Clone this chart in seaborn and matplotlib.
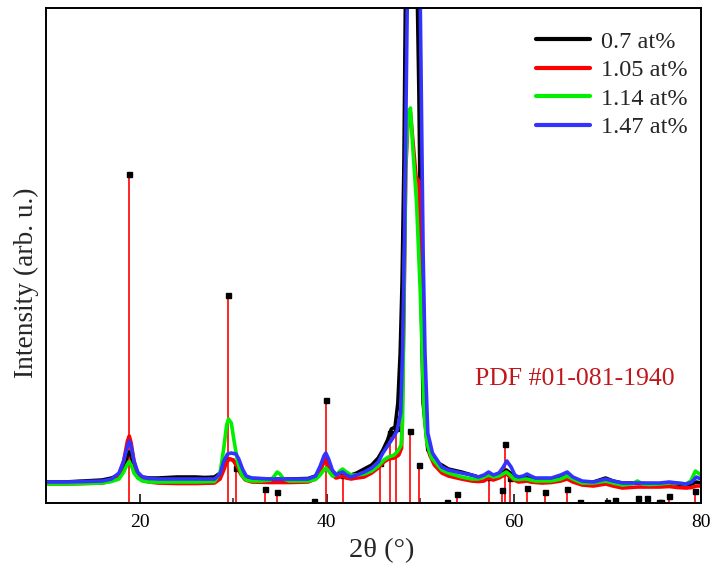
import numpy as np
import pandas as pd
import matplotlib
matplotlib.use("Agg")
import matplotlib.pyplot as plt
import seaborn as sns

# ---------------- data ----------------
labels = ["0.7 at%", "1.05 at%", "1.14 at%", "1.47 at%"]
colors = ["#000000", "#ff0000", "#00f000", "#3333ff"]

x_black = [10, 12, 14, 16, 17, 17.8, 18.3, 18.7, 18.9, 19.1, 19.4, 19.8, 20.3, 21, 22, 23, 24, 25, 26, 27, 28,
           28.6, 29.0, 29.3, 29.6, 30.0, 30.4, 30.8, 31.3, 32, 34, 36, 38, 38.8, 39.3, 39.7, 39.9, 40.2, 40.6,
           41.0, 41.4, 41.7, 42.1, 42.6, 43.2, 44.0, 44.8, 45.5, 46.0, 46.5, 46.9, 47.3, 47.6, 47.85, 48.05,
           48.25, 48.4, 48.6, 49.0, 49.4, 49.7, 49.85, 50.1, 50.3, 50.8, 51.4, 51.9, 52.3, 53.0, 54.4, 55.5,
           56.2, 56.8, 57.3, 57.8, 58.4, 58.8, 59.2, 59.6, 60.0, 60.5, 61.0, 61.4, 61.8, 62.3, 63.0, 64.0, 65.0,
           65.7, 66.3, 67.3, 68.5, 69.8, 70.6, 71.6, 73.2, 74.5, 75.6, 76.6, 77.5, 78.4, 79.0, 79.5, 80.0]
y_black = [21, 21, 22, 23, 25, 28, 36, 47, 51, 47, 36, 29, 26, 25, 25, 25.5, 26, 26, 26, 25.5, 26,
           30, 36, 42, 44, 43, 37, 30, 26, 24.5, 24, 24, 24.5, 27, 34, 41, 43, 38, 31,
           29, 30, 31, 29, 28, 30, 34, 38, 45, 53, 63, 74, 76, 100, 150, 220,
           340, 495, 650, 720, 650, 495, 410, 200, 100, 53, 44, 40, 38, 34, 31, 28,
           26, 27, 29, 27, 28, 30, 33, 30, 26, 24, 25, 26, 25, 24, 23, 23, 25,
           27, 24, 21, 21, 25, 22, 20, 20, 19, 19, 20, 19, 18, 19, 21, 20]

x_red = [10, 12, 14, 16, 17, 17.8, 18.3, 18.7, 18.9, 19.1, 19.4, 19.8, 20.3, 21, 22, 24, 26, 28, 28.6, 29.0,
         29.3, 29.6, 30.0, 30.4, 30.8, 31.3, 32, 34, 36, 38, 38.8, 39.3, 39.7, 39.9, 40.2, 40.6, 41.0, 41.4,
         41.7, 42.1, 42.6, 43.2, 44.0, 44.8, 45.5, 46.1, 46.6, 47.2, 47.7, 48.0, 48.25, 48.45, 48.7, 48.95,
         49.55, 49.85, 50.05, 50.25, 50.45, 50.7, 51.0, 51.5, 52.3, 53.0, 54.4, 55.5, 56.2, 56.8, 57.3, 57.8,
         58.4, 58.8, 59.2, 59.6, 60.0, 60.5, 61.0, 61.4, 61.8, 62.3, 63.0, 64.0, 65.0, 65.7, 66.3, 67.3, 68.5,
         69.8, 70.6, 71.6, 73.2, 74.5, 75.6, 76.6, 77.5, 78.4, 79.0, 79.5, 80.0]
y_red = [19, 19, 19.5, 20, 22, 28, 42, 62, 67, 60, 42, 29, 23, 21, 20, 19.5, 19.5, 20, 24, 33,
         41, 44, 43, 37, 29, 23, 21, 20.5, 20.5, 21, 24, 32, 41, 43, 37, 28, 25, 26,
         27, 25, 24, 25, 26, 30, 35, 41, 44, 45, 48, 55, 190, 335, 385, 390,
         326, 322, 250, 180, 110, 65, 48, 38, 30, 27, 24, 22, 21.5, 22, 25, 23,
         25, 27, 29, 26, 23, 21, 21.5, 22, 21, 20.5, 20, 20.5, 22, 24, 21, 18, 17,
         19, 17, 15, 16, 16, 16, 16.5, 15.5, 15, 15.5, 17, 17]

x_green = [10, 12, 14, 16, 17, 17.8, 18.3, 18.7, 18.9, 19.1, 19.4, 19.8, 20.3, 21, 22, 24, 26, 28, 28.6, 29.0,
           29.3, 29.5, 29.8, 30.1, 30.5, 30.9, 31.4, 32, 33, 34.0, 34.4, 34.7, 35.0, 35.4, 36, 38, 38.8, 39.3,
           39.7, 39.9, 40.2, 40.6, 41.0, 41.4, 41.7, 42.1, 42.6, 43.2, 44.0, 44.8, 45.5, 46.1, 46.6, 47.2, 47.6,
           47.95, 48.1, 48.25, 48.45, 48.7, 48.95, 49.2, 49.6, 50.0, 50.2, 50.4, 50.7, 51.2, 52.3, 53.0, 54.4,
           55.5, 56.2, 56.8, 57.3, 57.8, 58.4, 58.8, 59.2, 59.6, 60.0, 60.5, 61.0, 61.4, 61.8, 62.3, 63.0, 64.0,
           65.0, 65.7, 66.3, 67.3, 68.5, 69.8, 70.6, 71.6, 72.6, 73.2, 73.8, 74.5, 75.6, 76.6, 77.5, 78.4, 78.9,
           79.4, 79.7, 80.0]
y_green = [19, 19, 19.5, 20, 21.5, 24, 31, 39, 41, 38, 30, 25, 22, 21, 21, 21, 21, 21.5, 30, 55,
           78, 84, 80, 62, 40, 28, 23, 22, 22, 23, 27, 31, 29, 24, 22, 22, 23.5, 28,
           33, 35, 32, 27, 28, 32, 34, 31, 28, 28, 29, 32, 37, 43, 46, 48, 52,
           58, 80, 200, 340, 390, 395, 355, 300, 210, 150, 90, 60, 45, 33, 30, 26,
           24, 24, 26, 28, 26, 27, 29, 31, 28, 24, 23.5, 24, 24, 23, 22, 22, 22,
           24, 27, 24, 20, 20, 22, 20, 18, 19, 22, 19, 18.5, 19, 20, 20, 19, 22,
           32, 30, 28]

x_blue = [10, 12, 14, 16, 17, 17.8, 18.3, 18.7, 18.9, 19.1, 19.4, 19.8, 20.3, 21, 22, 24, 26, 28, 28.6, 29.0,
          29.4, 29.8, 30.3, 30.6, 31.0, 31.4, 32, 34, 36, 38, 38.8, 39.3, 39.7, 39.9, 40.2, 40.6, 41.0, 41.4,
          41.7, 42.1, 42.6, 43.2, 44.0, 44.8, 45.5, 46.0, 46.5, 47.0, 47.5, 47.9, 48.1, 48.3, 48.6, 48.9, 49.3,
          49.7, 50.0, 50.3, 50.5, 50.8, 51.3, 52.3, 53.0, 54.4, 55.5, 56.2, 56.8, 57.3, 57.8, 58.4, 58.8, 59.25,
          59.7, 60.1, 60.5, 61.0, 61.4, 61.8, 62.3, 63.0, 64.0, 65.0, 65.7, 66.3, 67.3, 68.5, 69.8, 70.6, 71.6,
          73.2, 74.5, 75.6, 76.6, 77.5, 78.4, 79.0, 79.5, 80.0]
y_blue = [21, 21, 21.5, 22, 24, 30, 42, 57, 62, 57, 42, 31, 26, 24.5, 24, 24, 24, 24, 29, 42,
          49, 50, 49, 44, 34, 27, 25, 24, 24, 24, 27, 37, 47, 50, 44, 33, 28, 30,
          31, 28, 26, 28, 31, 35, 41, 50, 57, 64, 72, 90, 150, 260, 495, 700, 720,
          650, 495, 250, 150, 70, 50, 36, 33, 30, 28, 26, 28, 31, 28, 30, 35, 42,
          36, 28, 26, 27, 29, 27, 25, 25, 25, 28, 31, 26, 22, 21, 24, 22, 20,
          20, 20, 20, 21, 20, 19, 21, 26, 24]

# reference pattern PDF #01-081-1940
pdf_pos = [18.9, 29.4, 30.3, 33.35, 34.7, 38.6, 39.9, 41.7, 45.7, 46.8, 47.35, 48.9, 49.9, 52.9, 53.9,
           57.3, 58.7, 59.1, 59.6, 61.4, 63.3, 65.7, 67.1, 70.0, 70.8, 73.3, 74.2, 75.55, 75.75, 76.6, 79.4]
pdf_int = [329, 208, 35, 14, 11, 2, 103, 28, 40, 70, 75, 72, 38, 1.5, 9,
           26, 13, 59, 25, 15, 11, 14, 1.5, 1.5, 3, 5, 5, 1.5, 1.5, 7, 12]
pdf_label = "PDF #01-081-1940"

# ---------------- build table ----------------
frames = []
for lab, xs, ys in zip(labels, [x_black, x_red, x_green, x_blue], [y_black, y_red, y_green, y_blue]):
    frames.append(pd.DataFrame({"two_theta": xs, "intensity": ys, "sample": lab}))
df = pd.concat(frames, ignore_index=True)

sns.set_theme(style="white")
plt.rcParams["font.family"] = ["Liberation Serif", "DejaVu Serif"]

fig = plt.figure(figsize=(7.11, 5.65), dpi=100)
ax = fig.add_axes([0.0647, 0.1097, 0.9213, 0.8761])

# sticks
ax.vlines(pdf_pos, 0, pdf_int, colors="#ff0000", linewidth=1.2, zorder=1)
ax.plot(pdf_pos, pdf_int, linestyle="none", marker="s", markersize=3.6,
        color="black", zorder=1.5)

sns.lineplot(data=df, x="two_theta", y="intensity", hue="sample", hue_order=labels,
             palette=dict(zip(labels, colors)), estimator=None, sort=False,
             linewidth=2.6, ax=ax, zorder=2)

ax.set_xlim(10, 80)
ax.set_ylim(0, 495)
ax.set_xticks([20, 40, 60, 80])
ax.set_xticks([30, 50, 70], minor=True)
ax.set_yticks([])
ax.tick_params(axis="x", which="major", direction="in", length=6.5, width=1.1,
               labelsize=14, pad=8, bottom=True, colors="black")
ax.tick_params(axis="x", which="minor", direction="in", length=3.5, width=1.1, bottom=True)
for s in ax.spines.values():
    s.set_color("black")
    s.set_linewidth(1.4)

ax.set_xlabel("2θ (°)", fontsize=20.5, labelpad=4)
ax.xaxis.set_label_coords(0.513, -0.07)
ax.set_ylabel("Intensity (arb. u.)", fontsize=19.7, labelpad=4)
ax.yaxis.set_label_coords(-0.0105, 0.444)

ax.text(0.655, 0.2505, pdf_label, transform=ax.transAxes, color="#c0161c",
        fontsize=18.5, va="center")

leg = ax.legend(loc="upper right", frameon=False, fontsize=17.5, handlelength=2.2,
                handletextpad=0.45, labelspacing=0.27, borderaxespad=0.0,
                bbox_to_anchor=(0.994, 0.974))
for line in leg.get_lines():
    line.set_linewidth(3)

fig.savefig("out.png", dpi=100)
